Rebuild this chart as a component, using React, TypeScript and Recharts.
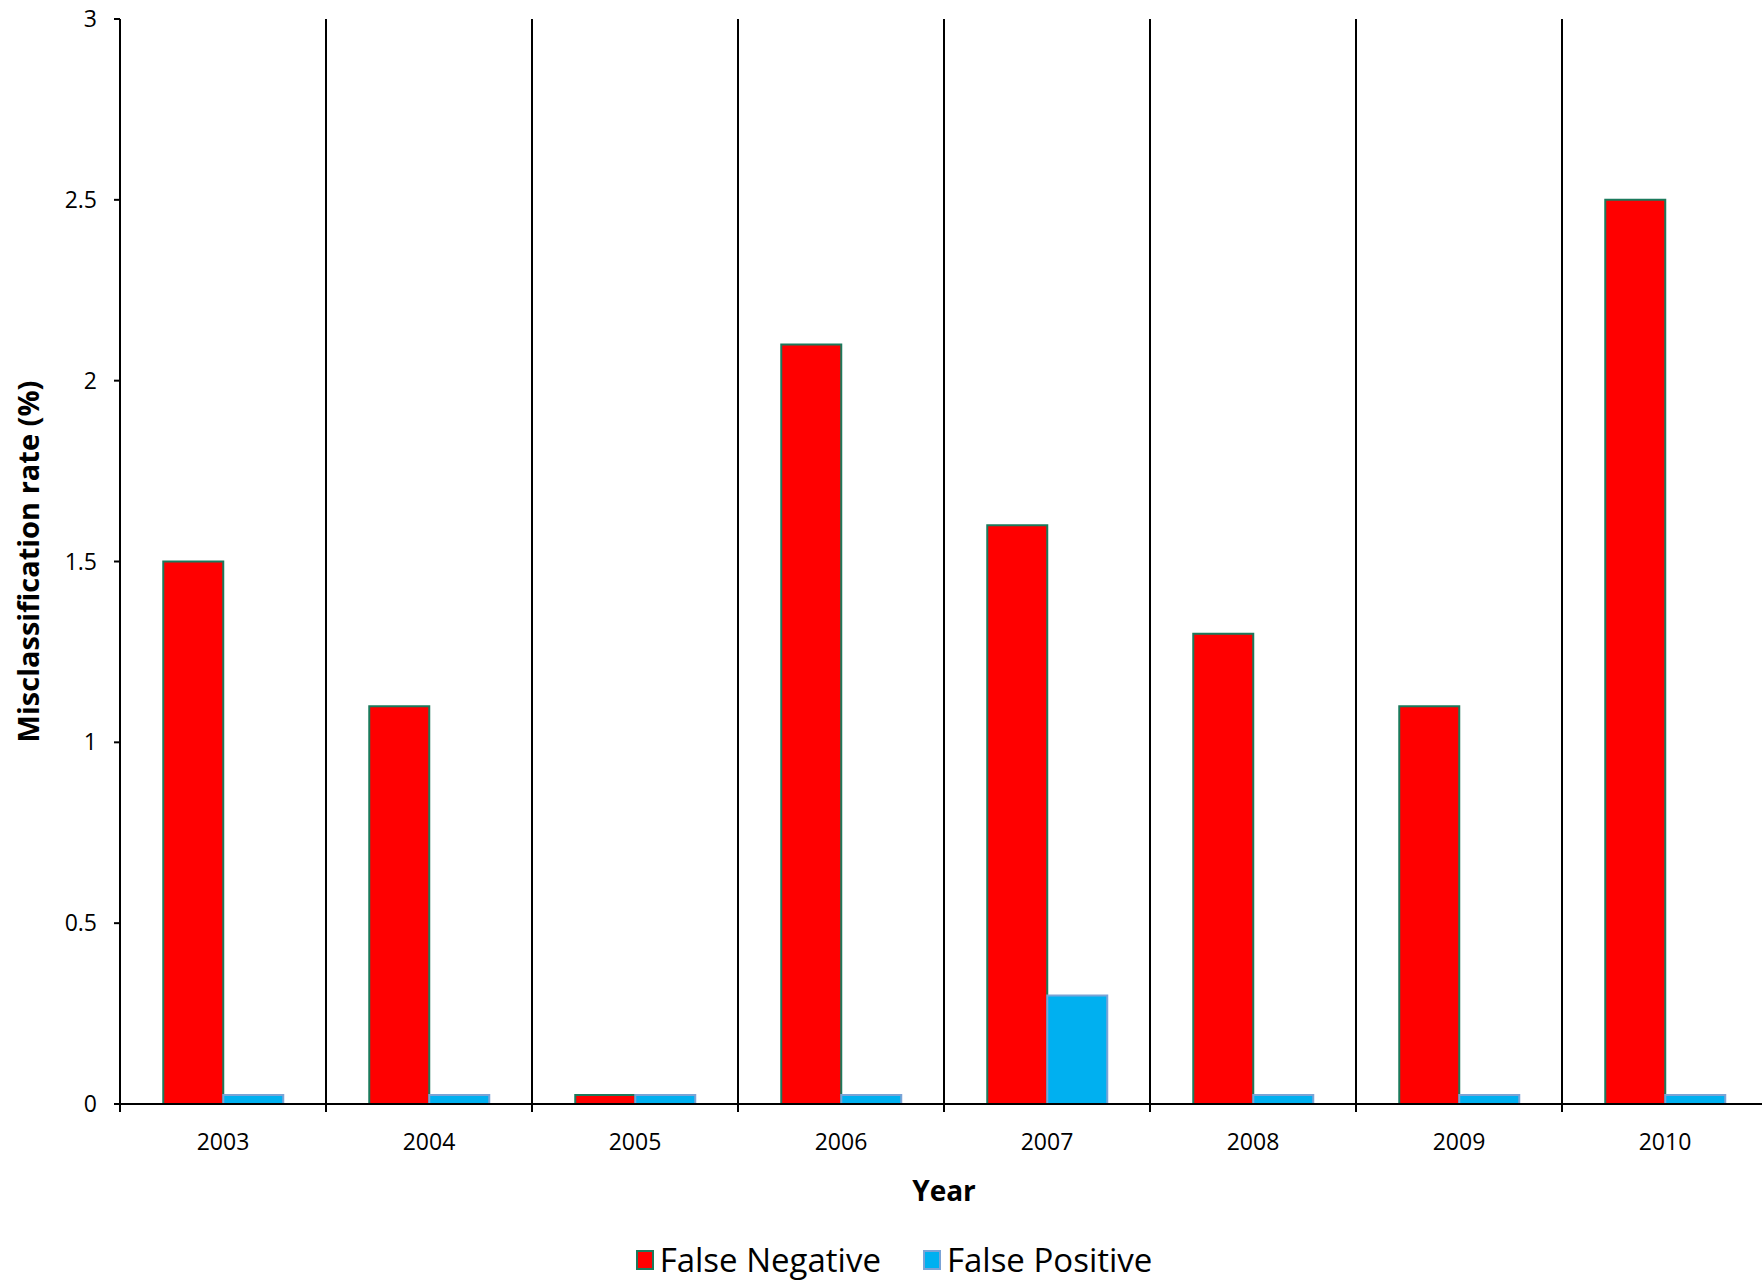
import { Bar, BarChart, CartesianGrid, Legend, XAxis, YAxis } from "recharts";

const years = ["2003", "2004", "2005", "2006", "2007", "2008", "2009", "2010"];
const falseNegative = [1.5, 1.1, 0.025, 2.1, 1.6, 1.3, 1.1, 2.5];
const falsePositive = [0.025, 0.025, 0.025, 0.025, 0.3, 0.025, 0.025, 0.025];
const yTicks = [0, 0.5, 1, 1.5, 2, 2.5, 3];

const data = years.map((year, i) => ({ year, fn: falseNegative[i], fp: falsePositive[i] }));

const FONT = "'Open Sans', sans-serif";

function YearTick(props: any) {
  const { x, y, payload } = props;
  const half = payload.offset ?? 103;
  return (
    <g>
      <line x1={x - half} y1={y} x2={x - half} y2={y + 8} stroke="#000" strokeWidth={2} />
      <text x={x} y={y + 37} textAnchor="middle" dominantBaseline="central" fontFamily={FONT} fontSize={23} fill="#000">
        {payload.value}
      </text>
    </g>
  );
}

function LegendBox() {
  const items = [
    { label: "False Negative", fill: "#ff0000", stroke: "#1b7a5c" },
    { label: "False Positive", fill: "#00b0f0", stroke: "#7ba3d6" },
  ];
  return (
    <div
      style={{
        display: "flex",
        justifyContent: "center",
        alignItems: "center",
        height: 38,
        gap: 42,
        paddingLeft: 20,
        marginTop: -6,
        fontFamily: FONT,
        fontSize: 33,
        lineHeight: "38px",
      }}
    >
      {items.map((it) => (
        <div key={it.label} style={{ display: "flex", alignItems: "center", gap: 6 }}>
          <span style={{ width: 14, height: 16, background: it.fill, border: `2px solid ${it.stroke}` }} />
          <span>{it.label}</span>
        </div>
      ))}
    </div>
  );
}

export default function App() {
  return (
    <div style={{ position: "fixed", left: 0, top: 0, width: 1762, height: 1285, overflow: "hidden", background: "#fff" }}>
      <BarChart
        width={1786}
        height={1285}
        data={data}
        margin={{ top: 19, right: 18, bottom: 0, left: 0 }}
        barCategoryGap="21%"
        barGap={0}
      >
        <CartesianGrid
          horizontal={false}
          stroke="#000"
          strokeWidth={2}
          verticalCoordinatesGenerator={({ offset }: any) =>
            years.map((_, i) => offset.left + ((i + 1) * offset.width) / years.length)
          }
        />
        <XAxis
          dataKey="year"
          height={143}
          tickSize={0}
          tickMargin={0}
          tick={<YearTick />}
          axisLine={{ stroke: "#000", strokeWidth: 2 }}
          tickLine={false}
          label={(p: any) => {
            const vb = p.viewBox;
            return (
              <text x={vb.x + vb.width / 2} y={vb.y + 86} textAnchor="middle" dominantBaseline="central" fontFamily={FONT} fontWeight="bold" fontSize={28} fill="#000">
                Year
              </text>
            );
          }}
        />
        <YAxis
          width={120}
          domain={[0, 3]}
          ticks={yTicks}
          tickSize={6}
          tickMargin={17}
          tick={{ fontFamily: FONT, fontSize: 23, fill: "#000" }}
          axisLine={{ stroke: "#000", strokeWidth: 2 }}
          tickLine={{ stroke: "#000", strokeWidth: 2 }}
          label={(p: any) => {
            const vb = p.viewBox;
            const cx = vb.x + 27;
            const cy = vb.y + vb.height / 2;
            return (
              <text x={cx} y={cy} transform={`rotate(-90, ${cx}, ${cy})`} textAnchor="middle" dominantBaseline="central" fontFamily={FONT} fontWeight="bold" fontSize={29} fill="#000">
                Misclassification rate (%)
              </text>
            );
          }}
        />
        <Legend verticalAlign="bottom" height={38} content={<LegendBox />} />
        <Bar dataKey="fn" name="False Negative" fill="#ff0000" stroke="#1b7a5c" strokeWidth={2} isAnimationActive={false} />
        <Bar dataKey="fp" name="False Positive" fill="#00b0f0" stroke="#7ba3d6" strokeWidth={2} isAnimationActive={false} />
      </BarChart>
    </div>
  );
}
